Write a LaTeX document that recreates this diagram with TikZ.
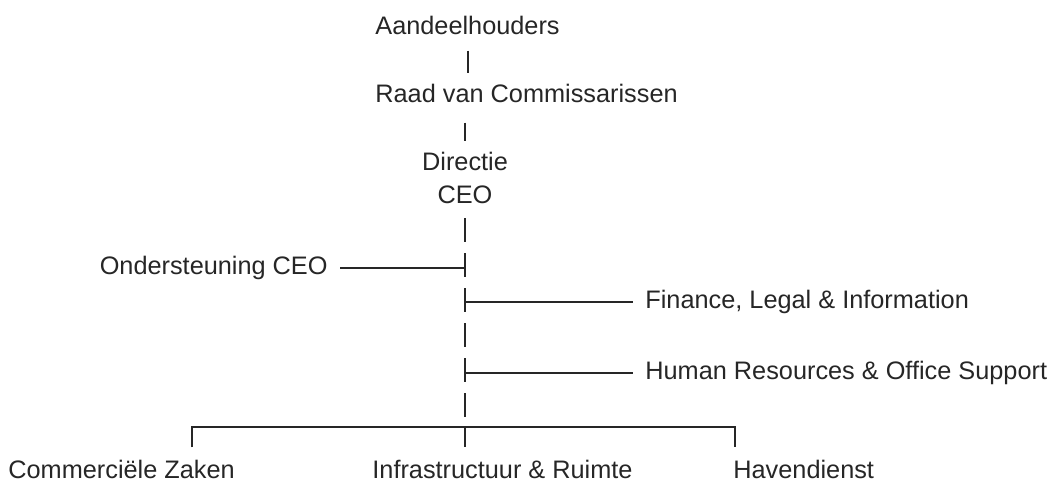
\documentclass[tikz,border=0pt]{standalone}
\usepackage{fontspec}
\setmainfont{Liberation Sans}
\usetikzlibrary{positioning}
\definecolor{ink}{RGB}{38,38,38}
\tikzset{
  org/.style={inner sep=0pt,text=ink,font=\fontsize{12.65}{16.5}\selectfont,align=center},
  branch/.style={org,inner xsep=6pt},
  lnk/.style={draw=ink,line width=1pt},
  trunk/.style={lnk,dash pattern=on 12pt off 5.5pt}
}

\begin{document}
\begin{tikzpicture}[x=0.5pt,y=-0.5pt]
  \useasboundingbox (0,0) rectangle (1054,481);
  % top of the chart
  \node[org,anchor=base west] (aand) at (375,35) {Aandeelhouders};
  \node[org,anchor=base west] (rvc) at (375,103) {Raad van Commissarissen};
  \node[org,anchor=south] (dir) at (465,204) {Directie\\CEO};
  \draw[lnk,shorten <=7.5pt,shorten >=5.5pt] (aand.south) -- (aand.south |- rvc.north);
  \draw[lnk,shorten <=9.5pt,shorten >=5.3pt] (dir.north |- rvc.south) -- (dir.north);
  % dashed trunk with side branches
  \coordinate (j1) at (465,268);
  \coordinate (j2) at (465,302);
  \coordinate (j3) at (465,373);
  \coordinate (bus) at (465,427);
  \draw[trunk,shorten <=7pt] (dir.south) -- (bus);
  \node[branch,left=62.5pt of j1] (ond) {Ondersteuning CEO};
  \node[branch,right=84pt of j2] (fli) {Finance, Legal \& Information};
  \node[branch,right=84pt of j3] (hros) {Human Resources \& Office Support};
  \draw[lnk] (ond) -- (j1);
  \draw[lnk] (j2) -- (fli);
  \draw[lnk] (j3) -- (hros);
  % departments
  \node[org,anchor=base west] (cz) at (8,478) {Commerciële Zaken};
  \node[org,anchor=base west] (ir) at (372,478) {Infrastructuur \& Ruimte};
  \node[org,anchor=base west] (hd) at (733,478) {Havendienst};
  \coordinate (busl) at (192,427);
  \coordinate (busr) at (735,427);
  \draw[lnk,shorten <=6pt,shorten >=6pt] (busl |- cz.north) -- (busl) -- (busr) -- (busr |- hd.north);
  \draw[lnk,shorten >=6pt] (bus) -- (bus |- ir.north);
\end{tikzpicture}
\end{document}
